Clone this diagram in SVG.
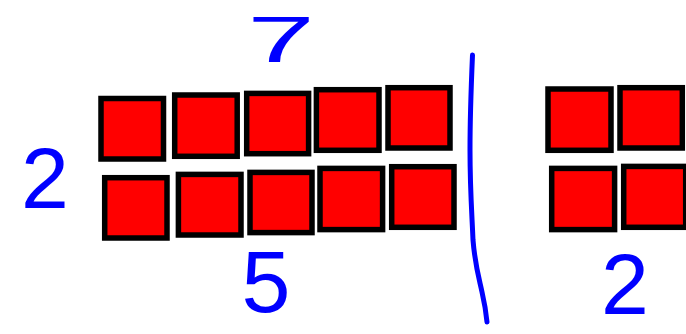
<svg xmlns="http://www.w3.org/2000/svg" width="686" height="334" viewBox="0 0 686 334">
<style>
.sq{fill:#ff0000;stroke:#000;stroke-width:5.5}
.pen{fill:none;stroke:#0000ff;stroke-width:5;stroke-linecap:round;stroke-linejoin:round}
.num{font-family:"Liberation Sans",Arial,sans-serif;fill:#0000ff;text-anchor:middle}
</style>
<rect width="686" height="334" fill="#ffffff"/>
<g id="left-array">
<rect class="sq" x="101" y="98.5" width="62.5" height="60.5"/>
<rect class="sq" x="174.7" y="95" width="62.5" height="61.3"/>
<rect class="sq" x="246.7" y="93.4" width="61.9" height="60.3"/>
<rect class="sq" x="316.4" y="89.7" width="62.6" height="60.6"/>
<rect class="sq" x="388" y="87.7" width="62" height="60.3"/>
<rect class="sq" x="104.7" y="177.7" width="62.3" height="60.3"/>
<rect class="sq" x="178.4" y="174.4" width="62.6" height="60.6"/>
<rect class="sq" x="250" y="172.4" width="62" height="60.2"/>
<rect class="sq" x="320" y="168.4" width="62.6" height="61.2"/>
<rect class="sq" x="391.7" y="166.7" width="62.3" height="60.6"/>
</g>
<g id="right-array">
<rect class="sq" x="548" y="89" width="63" height="61.3"/>
<rect class="sq" x="620" y="87.7" width="62.3" height="60.3"/>
<rect class="sq" x="551.7" y="168.4" width="62.9" height="61.2"/>
<rect class="sq" x="623.7" y="166.4" width="62" height="60.9"/>
</g>
<path id="divider" class="pen" d="M472.5,55 C471,90 470,120 470,150 C470,190 472,215 473,240 C475,265 479,278 482,292 C485,305 486,312 487,322"/>
<g id="labels">
<text class="num" font-size="64" transform="translate(281,62) scale(1.9,1)">7</text>
<text class="num" font-size="86" x="45" y="208">2</text>
<text class="num" font-size="88" x="266" y="312">5</text>
<text class="num" font-size="86" x="625" y="314">2</text>
</g>
</svg>
